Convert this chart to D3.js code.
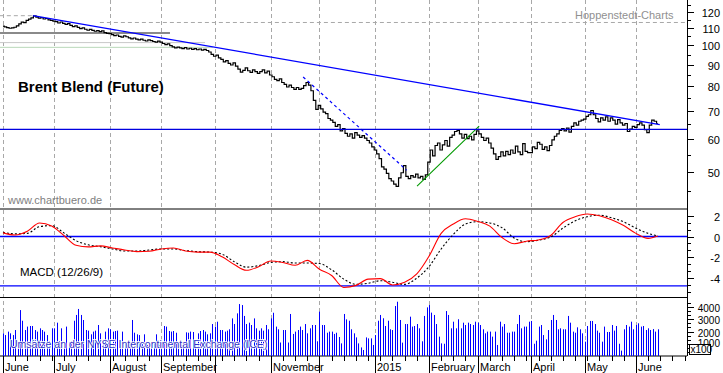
<!DOCTYPE html>
<html>
<head>
<meta charset="utf-8">
<script src="https://cdn.jsdelivr.net/npm/d3@7"></script>
<style>
  body { margin: 0; background: #fff; }
  svg { display: block; font-family: "Liberation Sans", Arial, sans-serif; }
</style>
</head>
<body>
<svg id="chart" width="723" height="373"></svg>
<script>
// Daily closes, Brent future, one value per trading day
const closeJun14 = [111.1,110.6,110.2,109.8,110.0,110.4,111.2,112.4,113.5,113.2,114.6,115.4,116.2,117.4,116.6,116.0,116.3,115.5,115.8,115.0,114.6];
const closeJul14 = [114.2,113.8,113.0,113.6,112.8,112.2,112.6,111.5,110.8,111.2,110.3,109.6,110.0,109.2,108.6,109.1,108.5,108.0,108.4,107.8,108.2,107.2,106.8];
const closeAug14 = [106.6,106.0,105.4,105.8,105.0,104.6,105.3,104.8,104.2,103.6,104.1,103.5,103.0,103.4,102.8,102.4,103.0,102.6,102.1,101.8,102.3];
const closeSep14 = [101.8,101.0,100.4,100.8,99.8,99.2,98.6,99.0,98.6,98.2,98.8,98.0,98.4,97.8,98.2,97.6,98.0,97.4,97.8,97.2,96.4,95.2];
const closeOct14 = [94.2,94.8,93.4,92.6,91.3,92.0,90.6,89.8,90.8,89.2,87.8,86.4,87.2,88.4,87.0,86.2,87.4,86.6,85.8,86.6,87.4,86.0,86.8];
const closeNov14 = [85.0,84.2,83.0,82.4,83.2,81.6,80.8,79.6,80.4,79.4,78.6,79.4,78.6,79.0,80.2,81.6,80.4,78.0,74.0,70.4];
const closeDec14 = [72.0,70.6,69.4,68.8,67.0,66.4,65.6,64.2,64.8,62.6,63.4,61.8,60.8,61.6,60.2,62.0,61.2,60.4,61.0,60.2,59.4,58.6,57.4];
const closeJan15 = [56.4,55.2,53.8,51.4,50.8,49.6,48.2,47.6,46.8,46.2,48.4,49.8,51.8,48.8,48.2,49.0,48.6,49.4,48.4,48.8,48.0,49.2];
const closeFeb15 = [52.8,56.4,54.6,57.8,58.6,56.4,58.0,59.4,57.6,60.4,61.2,62.4,62.8,61.6,60.2,61.4,60.0,60.8,59.6,61.4];
const closeMar15 = [62.6,61.6,60.4,59.4,60.2,58.6,57.0,55.2,53.6,54.4,55.8,54.6,56.0,55.0,56.4,55.4,57.6,55.8,55.0,58.4,56.0,55.6];
const closeApr15 = [55.6,57.4,56.8,58.8,58.2,56.6,57.4,56.2,57.8,59.6,60.8,61.6,62.8,63.4,62.6,63.6,62.2,64.2,65.4,64.6,66.0,66.4];
const closeMay15 = [66.8,67.8,68.4,70.0,68.4,67.0,65.8,67.2,66.4,67.6,66.0,67.2,66.4,65.0,66.6,65.4,64.6,65.2,62.4,63.2,64.2];
const closeJun15 = [63.8,64.8,65.4,64.6,63.0,62.0,64.6,66.4,66.0,65.2];

// Daily volume (x100)
const volumes = [
  1850,1710,1990,1850,1710,2120,1100,3750,2880,2120,2400,2450,2450,2120,1990,2260,2120,1990,1710,1200,2260,
  2260,2720,1200,2260,1000,2400,1100,1200,2880,3350,3840,3350,2940,2120,2070,1770,1990,2070,2530,1850,1100,1990,2260,
  2180,1990,2040,2070,1000,1990,1100,900,1000,2940,1900,1770,1710,1000,1770,900,800,1000,1100,1770,900,
  1000,2450,2400,2040,1990,2040,1900,1000,900,1100,1930,1900,1990,1960,1100,1850,2040,2120,1990,1770,1850,2610,
  2400,2800,2120,2120,1990,2070,2180,3070,2610,3480,4240,4160,3270,2610,2720,2530,3070,2260,2070,2260,2070,2530,2180,
  3070,3530,2400,2180,1100,2120,2120,1100,3430,1800,1990,2120,2400,2120,2610,1850,2260,2530,2530,1200,
  3620,2530,2530,1900,1990,1990,1800,1900,1550,1030,3430,2990,2880,2180,1850,1520,1030,700,490,1520,1440,1440,900,
  1710,2880,3350,3080,2450,2880,2180,2120,4080,4430,2940,1090,2610,2610,3210,2400,2450,2610,2260,1200,3270,3970,
  4160,3540,3350,2610,1580,1030,1000,3670,3350,2260,2800,2260,3000,2260,2720,2530,2720,2610,2530,2800,
  2720,2530,2180,1850,1990,1990,1580,1990,900,2800,2400,2610,1900,1900,1990,1990,2610,3350,2260,2400,2400,2800,
  2860,1000,1250,2400,2530,1710,1360,2120,2940,3350,2940,2180,2260,2180,2180,3270,2720,1990,1900,2340,2180,1850,
  1170,2450,2860,2860,2610,2070,1900,1170,2400,1960,1960,2530,2070,2450,1000,440,2180,2530,2400,2800,2180,
  2530,2670,2400,2450,2120,2260,2120,2200,1990,2180
];

// MACD (12/26/9), read every 5th trading day
const macdDays = [0,5,10,15,20,25,30,35,40,45,50,55,60,65,70,75,80,85,90,95,100,105,110,115,120,125,130,135,140,145,150,155,160,165,170,175,180,185,190,195,200,205,210,215,220,225,230,235,240,245,250,255,260,265,269];
const macdLine = [0.35,0.14,0.5,1.3,1.0,0.1,-0.85,-1.0,-0.9,-1.1,-1.3,-1.45,-1.42,-1.2,-1.1,-1.4,-1.5,-1.5,-1.95,-2.7,-3.25,-2.9,-2.35,-2.5,-2.77,-2.3,-3.15,-3.75,-4.9,-4.7,-4.1,-4.05,-4.66,-4.4,-3.6,-1.9,0.3,1.2,1.7,1.45,1.0,-0.1,-0.7,-0.45,-0.33,0.1,1.35,1.9,2.16,2.0,1.62,1.05,0.3,-0.18,0.05];
const signalLine = [0.4,0.25,0.3,0.95,1.05,0.35,-0.4,-0.8,-0.98,-1.2,-1.4,-1.4,-1.3,-1.2,-1.2,-1.35,-1.46,-1.5,-1.7,-2.42,-2.95,-2.8,-2.5,-2.42,-2.55,-2.55,-2.6,-3.2,-4.1,-4.6,-4.5,-4.25,-4.4,-4.6,-4.0,-2.9,-1.2,0.2,1.2,1.42,1.3,0.85,-0.15,-0.5,-0.35,-0.05,0.8,1.5,1.9,2.05,1.8,1.4,0.8,0.3,0.05];

// Drawn lines: [trading day, price]
const resistanceLine = [[12.3, 117.6], [269.8, 64.8]];
const fallLine = [[123.3, 84.1], [165.8, 50.5]];
const riseLine = [[170.1, 46.3], [195.6, 64.3]];
const supportLevel = 63.1;
const refLevels = [117.6, 113.3, 107.0, 101.5, 98.9];
const refStarts = [-1.3, 39.8, -1.3, -1.3, -1.3];
const refEnds = [14, 281, 68.6, 83, 86.2];

const monthLabels = ["June","July","August","September","","November","","2015","February","March","April","May","June"];
const priceTicks = [50,60,70,80,90,100,110,120];
const priceMinor = [45,55,65,75,85,95,105,115,125];
const macdTicks = [-4,-2,0,2];
const macdLevels = [0, -4.75];
const volTicks = [1000,2000,3000,4000];

const closes = [].concat(closeJun14, closeJul14, closeAug14, closeSep14, closeOct14, closeNov14,
  closeDec14, closeJan15, closeFeb15, closeMar15, closeApr15, closeMay15, closeJun15);

// trading calendar (weekdays) starting 2 June 2014
const days = [];
for (let d = new Date(2014, 5, 2); days.length < 282; d.setDate(d.getDate() + 1)) {
  if (d.getDay() !== 0 && d.getDay() !== 6) days.push(new Date(d));
}
const monthStarts = [];
days.forEach((d, i) => {
  if (i === 0 || d.getMonth() !== days[i - 1].getMonth()) monthStarts.push(i);
});
const mondays = days.map((d, i) => d.getDay() === 1 ? i : -1).filter(i => i >= 0 && !monthStarts.includes(i));

const svg = d3.select('#chart');
const axisX = 687;
const bottom = 356;

const x = d3.scaleLinear().domain([0, 281]).range([3, 687]);
const yP = d3.scaleLog().domain([50, 120]).range([172, 12]);
const yM = d3.scaleLinear().domain([-4, 2]).range([278.1, 215.7]);
const yV = d3.scaleLinear().domain([0, 4000]).range([bottom, 307]);

svg.append('rect').attr('width', 723).attr('height', 373).attr('fill', '#fff');

// month grid
svg.append('g').selectAll('line').data(monthStarts).enter().append('line')
  .attr('x1', i => Math.round(x(i)) + 0.5).attr('x2', i => Math.round(x(i)) + 0.5)
  .attr('y1', 0).attr('y2', bottom)
  .attr('stroke', '#a8a8a8').attr('stroke-dasharray', '4,3');

// reference lines in price panel
const refColors = ['#a8a8a8', '#a8a8a8', '#8a8a8a', '#c8c8c8', '#b8d8b8'];
const refWidths = [1, 1, 2, 1, 1];
const refDash = ['4,3', '4,3', null, null, null];
svg.append('g').selectAll('line').data(refLevels).enter().append('line')
  .attr('x1', (p, k) => x(refStarts[k])).attr('x2', (p, k) => x(refEnds[k]))
  .attr('y1', p => yP(p)).attr('y2', p => yP(p))
  .attr('stroke', (p, k) => refColors[k])
  .attr('stroke-width', (p, k) => refWidths[k])
  .attr('stroke-dasharray', (p, k) => refDash[k]);

// price step line
const priceLine = d3.line().x((d, i) => x(i)).y(d => yP(d)).curve(d3.curveStep);
svg.append('path').datum(closes)
  .attr('d', priceLine).attr('fill', 'none').attr('stroke', '#000').attr('stroke-width', 1.2);

// trend lines
const seg = d3.line().x(d => x(d[0])).y(d => yP(d[1]));
svg.append('path').datum(resistanceLine).attr('d', seg)
  .attr('stroke', '#0000ff').attr('stroke-width', 1.3).attr('fill', 'none');
svg.append('path').datum(fallLine).attr('d', seg)
  .attr('stroke', '#0000ff').attr('stroke-width', 1.2).attr('stroke-dasharray', '3,3').attr('fill', 'none');
svg.append('path').datum(riseLine).attr('d', seg)
  .attr('stroke', '#009900').attr('stroke-width', 1.1).attr('fill', 'none');
svg.append('line').attr('x1', 0).attr('x2', axisX)
  .attr('y1', yP(supportLevel)).attr('y2', yP(supportLevel))
  .attr('stroke', '#0000e0').attr('stroke-width', 1.3);

// texts in price panel
svg.append('text').attr('x', 18).attr('y', 92).attr('font-size', 15).attr('font-weight', 'bold')
  .text('Brent Blend (Future)');
svg.append('text').attr('x', 8).attr('y', 204).attr('font-size', 11).attr('fill', '#808080')
  .text('www.chartbuero.de');
svg.append('text').attr('x', 575).attr('y', 19).attr('font-size', 11).attr('fill', '#909090')
  .text('Hoppenstedt-Charts');

// panel separators
[209, 297.5, bottom].forEach(yy => {
  svg.append('line').attr('x1', 0).attr('x2', axisX).attr('y1', yy).attr('y2', yy)
    .attr('stroke', '#000').attr('stroke-width', 1);
});

// MACD panel
macdLevels.forEach(v => {
  svg.append('line').attr('x1', 0).attr('x2', axisX).attr('y1', yM(v)).attr('y2', yM(v))
    .attr('stroke', '#0000ff').attr('stroke-width', 1.3);
});
const macdPath = d3.line().x((d, k) => x(macdDays[k])).y(d => yM(d)).curve(d3.curveMonotoneX);
svg.append('path').datum(signalLine).attr('d', macdPath)
  .attr('fill', 'none').attr('stroke', '#000').attr('stroke-width', 1.1).attr('stroke-dasharray', '2,2');
svg.append('path').datum(macdLine).attr('d', macdPath)
  .attr('fill', 'none').attr('stroke', '#ff0000').attr('stroke-width', 1.1);
svg.append('text').attr('x', 20).attr('y', 276).attr('font-size', 11.5).text('MACD (12/26/9)');

// volume bars
svg.append('g').selectAll('line').data(volumes).enter().append('line')
  .attr('x1', (d, i) => Math.round(x(i)) + 0.5).attr('x2', (d, i) => Math.round(x(i)) + 0.5)
  .attr('y1', yV(0)).attr('y2', d => yV(d))
  .attr('stroke', '#0000ff').attr('stroke-width', 1);
svg.append('text').attr('x', 10).attr('y', 348).attr('font-size', 10.5).attr('fill', '#3030c8')
  .attr('stroke', '#fff').attr('stroke-width', 1.6).attr('paint-order', 'stroke')
  .text('Umsätze an der NYSE Intercontinental Exchange (ICE)');

// right axis
svg.append('line').attr('x1', axisX + 0.5).attr('x2', axisX + 0.5).attr('y1', 0).attr('y2', bottom)
  .attr('stroke', '#000');
const ax = svg.append('g').attr('text-anchor', 'end');
function isMinor(v, step) { return Math.abs(v / step - Math.round(v / step)) > 0.01; }
function ticks(vals, scale, len, labels, size) {
  vals.forEach(v => {
    const yy = Math.round(scale(v)) + 0.5;
    ax.append('line').attr('x1', axisX).attr('x2', axisX + len).attr('y1', yy).attr('y2', yy).attr('stroke', '#000');
    if (labels) ax.append('text').attr('x', 720).attr('y', yy + 4).attr('font-size', size).text(v);
  });
}
ticks(priceTicks, yP, 7, true, 11);
ticks(priceMinor.filter(v => yP(v) > 1 && yP(v) < 207), yP, 4, false);
ticks(macdTicks, yM, 7, true, 11);
ticks(d3.range(-16, 8).map(k => k * 2 / 3).filter(v => isMinor(v, 2) && yM(v) > 210 && yM(v) < 296), yM, 4, false);
ticks(volTicks.filter(v => v > 1000), yV, 7, true, 10);
ticks(d3.range(1, 14).map(k => k * 1000 / 3).filter(v => isMinor(v, 1000) && yV(v) > 298), yV, 4, false);

// 1000 label sits half under the x100 box, as in the original
const y1000 = Math.round(yV(1000)) + 0.5;
ax.append('line').attr('x1', axisX).attr('x2', axisX + 7).attr('y1', y1000).attr('y2', y1000).attr('stroke', '#000');
ax.append('text').attr('x', 720).attr('y', y1000 + 2).attr('font-size', 10).text(1000);
svg.append('rect').attr('x', 689.5).attr('y', 344.5).attr('width', 21).attr('height', 10)
  .attr('fill', '#fff').attr('stroke', '#000');
svg.append('text').attr('x', 690.5).attr('y', 353).attr('font-size', 10).text('x100');

// bottom axis
svg.append('g').selectAll('line').data(monthStarts).enter().append('line')
  .attr('x1', i => Math.round(x(i)) + 0.5).attr('x2', i => Math.round(x(i)) + 0.5)
  .attr('y1', bottom).attr('y2', 373).attr('stroke', '#000');
svg.append('g').selectAll('line').data(mondays).enter().append('line')
  .attr('x1', i => Math.round(x(i)) + 0.5).attr('x2', i => Math.round(x(i)) + 0.5)
  .attr('y1', bottom).attr('y2', bottom + 5).attr('stroke', '#000');
svg.append('g').selectAll('text').data(monthStarts).enter().append('text')
  .attr('x', i => Math.round(x(i)) + 2).attr('y', 371).attr('font-size', 11)
  .text((i, k) => monthLabels[k]);
</script>
</body>
</html>
